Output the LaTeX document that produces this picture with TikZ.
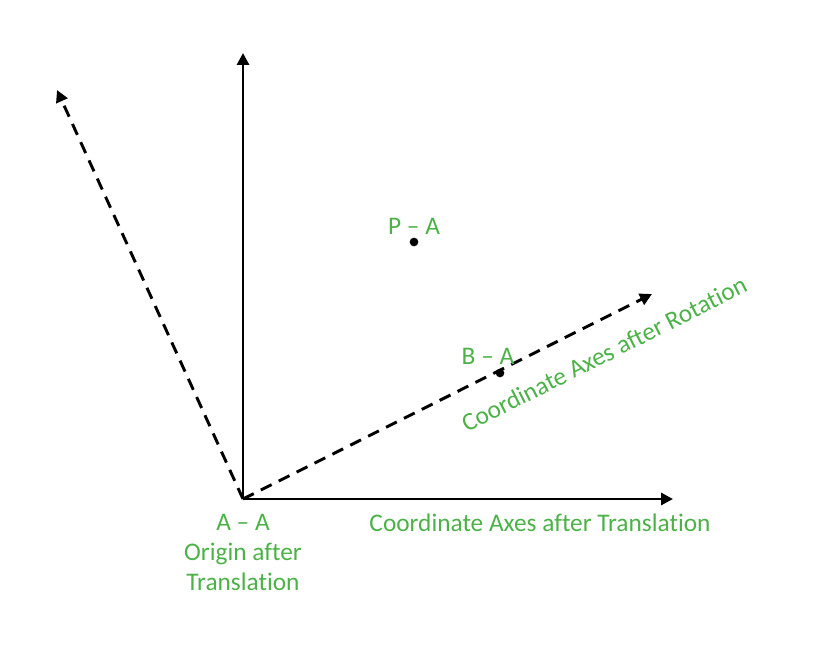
\documentclass[tikz,border=0pt]{standalone}
\usepackage{fontspec}
\setmainfont{Carlito}[Ligatures=NoCommon]
\usetikzlibrary{arrows.meta}
\definecolor{lblgreen}{RGB}{76,178,72}
\begin{document}
\begin{tikzpicture}[x=0.75pt,y=-0.75pt,
  axis/.style={line width=2.2pt,-{Triangle[length=9pt,width=9pt]}},
  daxis/.style={axis,dash pattern=on 9pt off 6pt},
  lbl/.style={text=lblgreen,font=\fontsize{19}{22.5}\selectfont,inner sep=0pt},
  pt/.style={circle,fill=black,inner sep=0pt,minimum size=6.5pt}]
\useasboundingbox (0,0) rectangle (825,648);
\coordinate (O) at (243,499);
\coordinate (Y) at (243,53);
\coordinate (X) at (673,499);
\coordinate (R1) at (652,294);
\coordinate (R2) at (57,90);
\draw[axis] (O) -- (Y);
\draw[axis] (O) -- (X);
\draw[daxis] (O) -- (R1);
\draw[daxis] (O) -- (R2);
\node[pt] (P) at (414,242) {};
\node[pt] (B) at (500,373) {};
\node[lbl] (Pl) at (414,226) {P – A};
\node[lbl] (Bl) at (488,356) {B – A};
\node[lbl,align=center] (Ol) at (243,552) {A – A\\Origin after\\Translation};
\node[lbl] (Tl) at (540,523) {Coordinate Axes after Translation};
\node[lbl,rotate=26.8] (Rl) at (604,354) {Coordinate Axes after Rotation};
\end{tikzpicture}
\end{document}
